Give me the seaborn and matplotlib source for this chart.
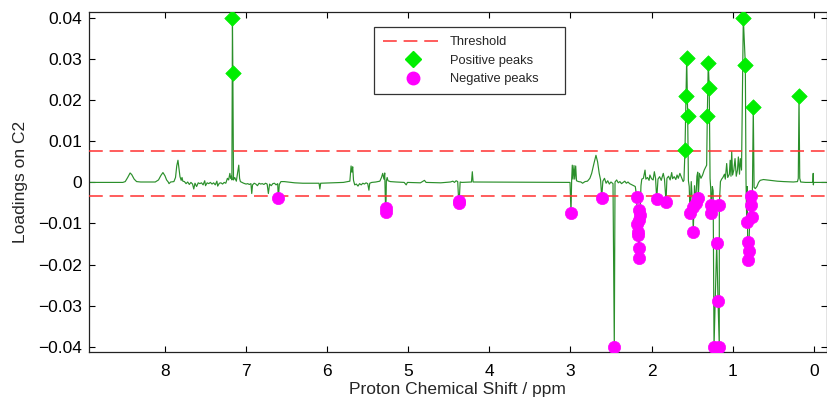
import numpy as np
import pandas as pd
import matplotlib
matplotlib.use("Agg")
import matplotlib.pyplot as plt
from matplotlib.lines import Line2D
from matplotlib.ticker import FuncFormatter
import seaborn as sns

# Loading trace on component 2 (chemical shift in ppm, loading value)
trace_ppm = [
    8.94, 8.52, 8.49, 8.46, 8.43, 8.41, 8.38, 8.35, 8.30, 8.12, 8.08, 8.05, 8.025, 8.00,
    7.98, 7.96, 7.95, 7.93, 7.89, 7.87, 7.855, 7.84, 7.83, 7.815, 7.80, 7.79, 7.78, 7.76,
    7.74, 7.72, 7.70, 7.68, 7.66, 7.645, 7.63, 7.61, 7.59, 7.57, 7.55, 7.53, 7.51, 7.50,
    7.48, 7.46, 7.44, 7.42, 7.40, 7.38, 7.36, 7.35, 7.33, 7.31, 7.29, 7.27, 7.25, 7.23,
    7.215, 7.20, 7.19, 7.18, 7.175, 7.155, 7.14, 7.12, 7.10, 7.09, 7.08, 7.07, 7.05, 7.03,
    7.00, 6.98, 6.96, 6.94, 6.93, 6.92, 6.90, 6.88, 6.86, 6.84, 6.82, 6.80, 6.78, 6.76,
    6.74, 6.725, 6.71, 6.69, 6.67, 6.65, 6.63, 6.61, 6.59, 6.57, 6.53, 6.45, 6.40, 6.30,
    6.20, 6.10, 6.09, 6.08, 5.95, 5.80, 5.72, 5.705, 5.695, 5.685, 5.675, 5.66, 5.64, 5.62,
    5.60, 5.58, 5.56, 5.54, 5.52, 5.50, 5.485, 5.475, 5.45, 5.40, 5.35, 5.33, 5.315, 5.30,
    5.29, 5.27, 5.26, 5.25, 5.22, 5.15, 5.05, 5.025, 5.01, 4.85, 4.80, 4.78, 4.60, 4.48,
    4.45, 4.43, 4.41, 4.39, 4.36, 4.34, 4.22, 4.21, 4.20, 3.02, 3.005, 2.985, 2.977, 2.968,
    2.956, 2.947, 2.935, 2.925, 2.90, 2.87, 2.85, 2.82, 2.79, 2.76, 2.738, 2.71, 2.685, 2.665,
    2.645, 2.628, 2.60, 2.58, 2.56, 2.54, 2.52, 2.50, 2.475, 2.45, 2.43, 2.41, 2.39, 2.37,
    2.35, 2.33, 2.31, 2.29, 2.27, 2.25, 2.22, 2.20, 2.13, 2.12, 2.10, 2.08, 2.07, 2.05,
    2.03, 2.02, 2.00, 1.98, 1.965, 1.95, 1.92, 1.90, 1.88, 1.87, 1.855, 1.84, 1.81, 1.79,
    1.77, 1.751, 1.74, 1.72, 1.70, 1.685, 1.67, 1.65, 1.63, 1.61, 1.60, 1.545, 1.535, 1.51,
    1.47, 1.44, 1.43, 1.41, 1.39, 1.37, 1.35, 1.33, 1.32, 1.278, 1.27, 1.25, 1.24, 1.15,
    1.135, 1.12, 1.10, 1.09, 1.073, 1.06, 1.04, 1.03, 1.02, 1.011, 1.00, 0.985, 0.970, 0.955,
    0.94, 0.929, 0.915, 0.905, 0.89, 0.835, 0.82, 0.755, 0.735, 0.72, 0.70, 0.68, 0.66, 0.62,
    0.54, 0.45, 0.37, 0.25, 0.20, 0.19, 0.172, 0.16, 0.10, 0.01, 0.006, 0.004, 0.00, -0.158,
]
trace_val = [
    0.0, 0.0, 0.0002, 0.0012, 0.0023, 0.0019, 0.0008, 0.0002, 0.0001, 0.0001, 0.0006, 0.0017, 0.0024, 0.0016,
    0.0006, 0.0001, -0.0003, 0.0001, 0.0002, 0.0012, 0.0040, 0.0054, 0.0038, 0.0014, 0.0005, 0.0012, 0.0003, 0.0002,
    -0.0003, 0.0001, -0.0005, 0.0, -0.0004, -0.0016, -0.0002, -0.0010, -0.0001, -0.0003, -0.0001, -0.0006, 0.0004, -0.0008,
    -0.0001, -0.0003, 0.0, -0.0004, -0.0001, -0.0006, 0.0003, -0.0009, -0.0002, -0.0001, -0.0004, 0.0, -0.0002, 0.0010,
    0.0006, 0.0022, 0.0010, 0.0015, 0.0006, 0.0006, 0.0012, 0.0003, 0.0030, 0.0042, 0.0010, 0.0002, 0.0, -0.0002,
    -0.0004, -0.0003, -0.0005, -0.0003, -0.0027, -0.0006, -0.0002, -0.0004, -0.0008, -0.0002, -0.0004, -0.0003, -0.0005, -0.0002,
    -0.0004, -0.0027, -0.0004, -0.0008, -0.0003, -0.0002, -0.0006, -0.0003, -0.0005, 0.0002, 0.0002, 0.0, -0.0001, -0.0002,
    -0.0002, -0.0002, -0.0016, -0.0002, -0.0001, 0.0, 0.0003, 0.0040, 0.0025, 0.0038, 0.0005, -0.0006, -0.0004, -0.0009,
    -0.0003, -0.0006, -0.0002, -0.0004, -0.0001, -0.0003, -0.0019, -0.0002, 0.0, 0.0001, 0.0003, 0.0012, 0.0022, 0.0008,
    0.0023, 0.0004, 0.0012, 0.0004, 0.0002, 0.0001, 0.0, -0.0006, 0.0, -0.0001, 0.0005, 0.0, -0.0001, 0.0001,
    0.0003, 0.0, 0.0004, 0.0002, 0.0001, 0.0, 0.0001, 0.0026, 0.0001, 0.0, 0.0, 0.0005, 0.0042, 0.0008,
    0.0041, 0.0008, 0.0040, 0.0004, 0.0002, 0.0001, -0.0002, 0.0002, 0.0003, 0.0010, 0.0022, 0.0046, 0.0066, 0.0050,
    0.0022, 0.0006, 0.0003, 0.0010, -0.0002, 0.0004, -0.0004, 0.0001, -0.0003, 0.0001, 0.0006, -0.0001, 0.0002, -0.0003,
    0.0, 0.0003, -0.0002, 0.0001, -0.0003, -0.0005, -0.0008, -0.0010, -0.0008, 0.0008, 0.0010, 0.0030, 0.0008, 0.0012,
    0.0005, 0.0018, 0.0009, 0.0006, 0.0026, 0.0010, 0.0008, 0.0014, 0.0005, 0.0012, 0.0022, 0.0008, 0.0010, 0.0015,
    0.0006, 0.0024, 0.0009, 0.0014, 0.0007, 0.0018, 0.0010, 0.0022, 0.0012, 0.0002, 0.0005, 0.0004, -0.0010, 0.0002,
    -0.0008, 0.0015, 0.0025, 0.0022, 0.0010, 0.0018, 0.0030, 0.0038, 0.0042, 0.0010, -0.0015, -0.0010, -0.0020, 0.0002,
    0.0008, 0.0012, 0.0020, 0.0008, 0.0046, 0.0012, 0.0020, 0.0054, 0.0015, 0.0075, 0.0018, 0.0030, 0.0058, 0.0015,
    0.0030, 0.0062, 0.0020, 0.0058, 0.0030, 0.0010, -0.0010, -0.0010, -0.0012, -0.0015, -0.0010, 0.0, 0.0005, 0.0007,
    0.0005, 0.0003, 0.0002, 0.0001, 0.0002, 0.0010, 0.0010, 0.0001, 0.0, 0.0, 0.0022, -0.0006, 0.0, 0.0,
]

# Peaks flagged above / below the thresholds
pos_ppm = [7.168, 7.163, 1.587, 1.575, 1.566, 1.554, 1.312, 1.300, 1.288, 0.868, 0.843, 0.745, 0.181]
pos_val = [0.0400, 0.0266, 0.0080, 0.0210, 0.0303, 0.0162, 0.0162, 0.0292, 0.0230, 0.0400, 0.0287, 0.0184, 0.0211]

neg_ppm = [6.602, 5.280, 5.276, 4.378, 4.372, 2.993, 2.614, 2.459, 2.183, 2.175, 2.167, 2.163, 2.158,
           2.158, 2.154, 2.154, 2.142, 1.936, 1.821, 1.525, 1.492, 1.485, 1.455, 1.423, 1.266, 1.266,
           1.229, 1.196, 1.180, 1.164, 1.164, 0.826, 0.814, 0.814, 0.802, 0.777, 0.777, 0.765]
neg_val = [-0.0039, -0.0063, -0.0071, -0.0045, -0.0049, -0.0074, -0.0037, -0.0400, -0.0035, -0.0102, -0.0120, -0.0127, -0.0067,
           -0.0159, -0.0092, -0.0183, -0.0080, -0.0041, -0.0048, -0.0074, -0.0061, -0.0120, -0.0050, -0.0037, -0.0054, -0.0075,
           -0.0400, -0.0148, -0.0288, -0.0400, -0.0054, -0.0096, -0.0145, -0.0189, -0.0166, -0.0033, -0.0055, -0.0084]

thresholds = [0.0077, -0.0033]
legend_labels = ["Threshold", "Positive peaks", "Negative peaks"]
x_ticks = [0, 1, 2, 3, 4, 5, 6, 7, 8]
y_ticks = [-0.04, -0.03, -0.02, -0.01, 0.0, 0.01, 0.02, 0.03, 0.04]

GREEN = "#2b8f2b"
LIME = "#00ee00"
MAGENTA = "#ff00ff"
RED = "#ff3030"

sns.set_style("ticks")
plt.rcParams["font.family"] = ["Liberation Sans", "DejaVu Sans"]
plt.rcParams["axes.unicode_minus"] = True

# Full trace: background points plus the flagged peak tips, ordered by shift
trace = pd.DataFrame({
    "ppm": trace_ppm + pos_ppm + neg_ppm,
    "loading": trace_val + pos_val + neg_val,
})
trace = trace.sort_values("ppm", ascending=False, kind="stable").reset_index(drop=True)
pos = pd.DataFrame({"ppm": pos_ppm, "loading": pos_val})
neg = pd.DataFrame({"ppm": neg_ppm, "loading": neg_val})

fig = plt.figure(figsize=(8.27, 3.98), dpi=100)
ax = fig.add_axes([89 / 827, 1 - 352 / 398, 737.5 / 827, 340 / 398])

sns.lineplot(data=trace, x="ppm", y="loading", sort=False, estimator=None,
             color=GREEN, lw=0.85, ax=ax, zorder=2)
for t in thresholds:
    ax.axhline(t, color=RED, lw=1.1, dashes=(9, 4.5), zorder=3)
sns.scatterplot(data=pos, x="ppm", y="loading", marker="D", s=62, color=LIME,
                edgecolor=LIME, linewidth=0.5, ax=ax, zorder=4)
sns.scatterplot(data=neg, x="ppm", y="loading", marker="o", s=78, color=MAGENTA,
                edgecolor=MAGENTA, linewidth=0.5, ax=ax, zorder=4)

ax.set_xlim(8.937, -0.158)
ax.set_ylim(-0.0413, 0.0415)
ax.set_xticks(x_ticks)
ax.set_yticks(y_ticks)
ax.yaxis.set_major_formatter(FuncFormatter(
    lambda v, _: "0" if abs(v) < 1e-9 else f"{v:.2f}".replace("-", "\u2212")))

ax.tick_params(axis="both", which="both", direction="in", length=4.5, width=0.8,
               top=True, right=True, labelsize=12.5, colors="black")
ax.tick_params(axis="x", pad=9)
ax.tick_params(axis="y", pad=5)
for sp in ax.spines.values():
    sp.set_visible(True)
    sp.set_linewidth(0.9)
    sp.set_color("#222222")

ax.set_xlabel("Proton Chemical Shift / ppm", fontsize=12.5, labelpad=2)
ax.set_ylabel("Loadings on C2", fontsize=12.5, labelpad=7)

handles = [
    Line2D([], [], color=RED, lw=1.1, dashes=(9, 4.5)),
    Line2D([], [], ls="none", marker="D", ms=8, color=LIME, mec=LIME),
    Line2D([], [], ls="none", marker="o", ms=9, color=MAGENTA, mec=MAGENTA),
]
leg = ax.legend(handles, legend_labels, loc="upper left", mode="expand",
                bbox_to_anchor=(0.3864, 0.956 - 0.19, 0.259, 0.19), borderaxespad=0,
                fontsize=9.3, handlelength=4.7, handletextpad=0.45,
                labelspacing=0.5, borderpad=0.7, fancybox=False,
                frameon=True, framealpha=1, edgecolor="#333333")
leg.get_frame().set_linewidth(0.9)

fig.savefig("out.png", dpi=100)
